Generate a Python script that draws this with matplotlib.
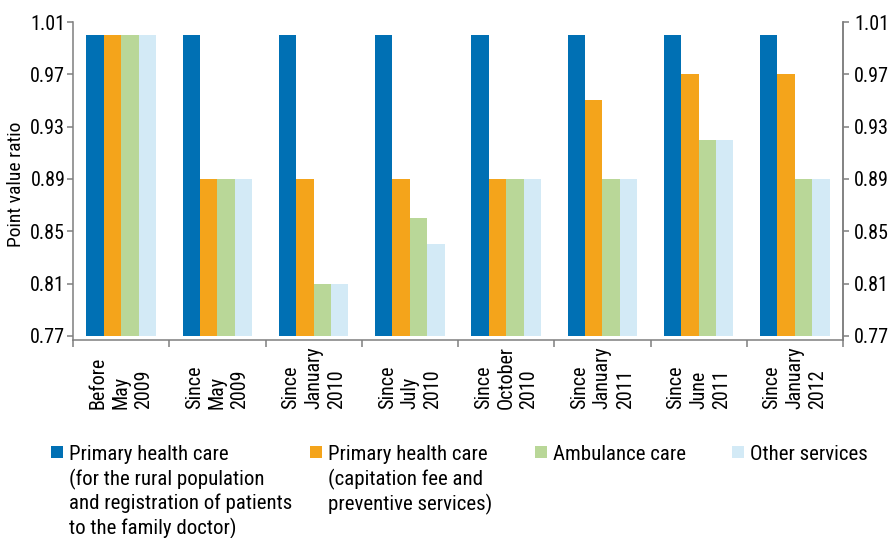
import numpy as np
import matplotlib
matplotlib.use('Agg')
import matplotlib.pyplot as plt
import matplotlib.transforms as mtransforms
from matplotlib import font_manager as fm
from matplotlib.patches import Rectangle

# Point value ratios per period and service type
periods = ['Before\nMay\n2009', 'Since\nMay\n2009', 'Since\nJanuary\n2010',
           'Since\nJuly\n2010', 'Since\nOctober\n2010', 'Since\nJanuary\n2011',
           'Since\nJune\n2011', 'Since\nJanuary\n2012']
phc_rural = [1.00, 1.00, 1.00, 1.00, 1.00, 1.00, 1.00, 1.00]
phc_capitation = [1.00, 0.89, 0.89, 0.89, 0.89, 0.95, 0.97, 0.97]
ambulance = [1.00, 0.89, 0.81, 0.86, 0.89, 0.89, 0.92, 0.89]
other = [1.00, 0.89, 0.81, 0.84, 0.89, 0.89, 0.92, 0.89]

series_names = ['Primary health care\n(for the rural population\nand registration of patients\nto the family doctor)',
                'Primary health care\n(capitation fee and\npreventive services)',
                'Ambulance care',
                'Other services']
colors = ['#0070b4', '#f4a41b', '#b9d798', '#d3eaf6']
yticks = [0.77, 0.81, 0.85, 0.89, 0.93, 0.97, 1.01]
base = 0.77

# pick a narrow sans if one is installed, otherwise shrink a regular one
fonts = fm.fontManager.ttflist
names = {f.name for f in fonts}
scale = 1.0
narrow = [n for n in ['Liberation Sans Narrow', 'Arial Narrow', 'Roboto Condensed',
                      'Open Sans Condensed', 'DejaVu Sans Condensed'] if n in names]
if narrow:
    plt.rcParams['font.family'] = [narrow[0], 'DejaVu Sans']
elif any(f.name == 'DejaVu Sans' and f.stretch == 'condensed' for f in fonts):
    plt.rcParams['font.family'] = ['DejaVu Sans']
    plt.rcParams['font.stretch'] = 'condensed'
    scale = 0.93
else:
    plt.rcParams['font.family'] = ['Liberation Sans', 'DejaVu Sans']
    scale = 0.84

W, H = 893, 538
fig = plt.figure(figsize=(W / 100, H / 100), dpi=100)
ax = fig.add_axes([73 / W, (H - 339.5) / H, 770 / W, 317.5 / H])

x = np.arange(len(periods))
width = 0.181
series = [phc_rural, phc_capitation, ambulance, other]
for k, (vals, col) in enumerate(zip(series, colors)):
    vals = np.array(vals)
    ax.bar(x + (k - 1.5) * width, vals - base, width, bottom=base,
           color=col, linewidth=0)

ax.set_xlim(-0.5, len(periods) - 0.5)
ax.set_ylim(base - 0.0027, 1.01)

axis_col = '#7f7f7f'
for side in ['left', 'right', 'bottom']:
    ax.spines[side].set_color(axis_col)
    ax.spines[side].set_linewidth(1.1)
ax.spines['top'].set_visible(False)

tick_fs = 14.5 * scale
ax.set_yticks(yticks)
ax.set_yticklabels(['%.2f' % t for t in yticks])
ax.tick_params(axis='y', direction='out', length=4, width=1.1,
               color=axis_col, labelsize=tick_fs, pad=1.5)

ax2 = ax.twinx()
ax2.set_ylim(ax.get_ylim())
ax2.set_yticks(yticks)
ax2.set_yticklabels(['%.2f' % t for t in yticks])
ax2.tick_params(axis='y', direction='out', length=4, width=1.1,
                color=axis_col, labelsize=tick_fs, pad=4)
for side in ['left', 'top', 'bottom']:
    ax2.spines[side].set_visible(False)
ax2.spines['right'].set_color(axis_col)
ax2.spines['right'].set_linewidth(1.1)

# group separators on the category axis
ax.set_xticks([])
ax.set_xticks(np.arange(-0.5, len(periods), 1), minor=True)
ax.tick_params(axis='x', which='minor', direction='out', length=5,
               width=1.1, color=axis_col)

trans = mtransforms.blended_transform_factory(ax.transData, ax.transAxes)
for i, lab in enumerate(periods):
    ax.text(i, -0.219, lab, transform=trans, rotation=90, ha='center',
            va='bottom', multialignment='left', fontsize=14.5 * scale,
            linespacing=1.25 / scale)

ax.set_ylabel('Point value ratio', fontsize=14 * scale, va='center')
ax.yaxis.set_label_coords(-0.074, 0.49)

# legend below the plot
leg_x = [51, 309.5, 535, 732]
for lx, col, name in zip(leg_x, colors, series_names):
    fig.add_artist(Rectangle((lx / W, 1 - 457.5 / H), 12 / W, 12 / H,
                             transform=fig.transFigure, color=col, lw=0))
    fig.text((lx + 18) / W, 1 - 445 / H, name, ha='left', va='top',
             fontsize=15 * scale, linespacing=1.27 / scale)

fig.savefig('out.png', dpi=100)
